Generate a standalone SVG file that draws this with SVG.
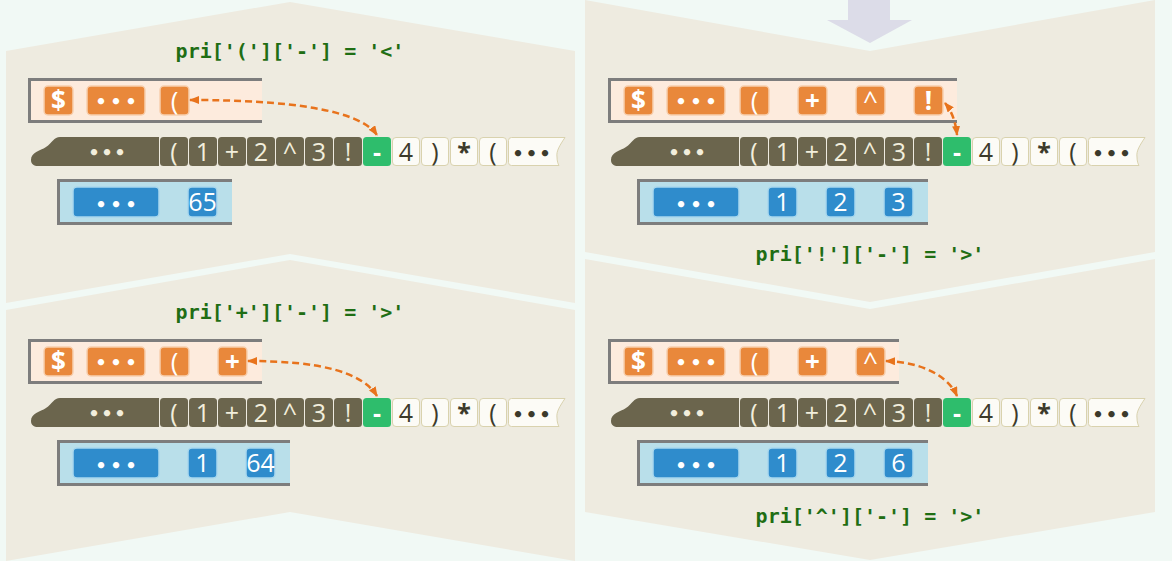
<svg xmlns="http://www.w3.org/2000/svg" width="1172" height="561" viewBox="0 0 1172 561">
<style>
.bgp{fill:#eeebe0}
.fo{fill:#fdebdd}
.fb{fill:#b9dfea}
.bd{fill:none;stroke:#7d7d7d;stroke-width:3}
.oi{fill:#e9883b;stroke:#f7cfae;stroke-width:1.5}
.bi{fill:#2f8ccc;stroke:#a9d8ee;stroke-width:1.5}
.dk{fill:#6b654d}
.lt{fill:#fcfbf6;stroke:#d9d2ae;stroke-width:1}
.gr{fill:#2ebd6c}
.t{font-family:"Open Sans","DejaVu Sans",sans-serif;font-size:25px;font-weight:500;text-anchor:middle}
.o{font-size:26px}
.b{font-weight:bold}
.tw{fill:#ffffff}
.tc{fill:#f2eedc}
.td{fill:#3c3a2b}
.dots{font-family:"DejaVu Sans",sans-serif;font-weight:bold;font-size:18px;text-anchor:middle}
.pri{font-family:"DejaVu Sans Mono",monospace;font-weight:bold;font-size:20px;fill:#1f6e14;text-anchor:middle}
.conn{fill:none;stroke:#e8731c;stroke-width:2.5;stroke-dasharray:7 4;marker-start:url(#ah);marker-end:url(#ah)}
</style>
<defs>
<marker id="ah" viewBox="0 0 10 8" refX="9" refY="4" markerWidth="10" markerHeight="8" markerUnits="userSpaceOnUse" orient="auto-start-reverse"><path d="M0,0 L10,4 L0,8 z" fill="#e8731c"/></marker>
</defs>
<rect width="1172" height="561" fill="#f1f9f5"/>
<g id="backgrounds">
<path class="bgp" d="M6,51 L290,2 L575,51 L575,303 L290,254 L6,303 Z"/>
<path class="bgp" d="M6,310 L290,260 L575,310 L575,561 L290,512 L6,561 Z"/>
<path class="bgp" d="M585,0 L870,51 L1155,0 L1155,252 L870,302 L585,252 Z"/>
<path class="bgp" d="M585,259 L870,309 L1155,259 L1155,512 L870,560 L585,512 Z"/>
</g>
<g id="down-arrow"><path d="M848,0 H890 V20 H912 L870,43 L827,20 H848 Z" fill="#dcdce8"/></g>

<!-- Panel L1 -->
<g id="label-L1"><text class="pri" x="290" y="58">pri['(']['-'] = '&lt;'</text></g>
<g id="opstack-L1">
<rect class="fo" x="28" y="78" width="234" height="45"/>
<path class="bd" d="M262,79.5 H29.5 V121.5 H262"/>
<rect class="oi" x="44" y="86" width="29" height="29" rx="4"/><text class="t o b tw" x="58.5" y="110">$</text>
<rect class="oi" x="87" y="86" width="58" height="29" rx="4"/><text class="dots tw" x="101 116 131" y="107.5">•••</text>
<rect class="oi" x="160" y="86" width="29" height="29" rx="4"/><text class="t o tw" x="174.5" y="110">(</text>
</g>
<g id="tokens-L1">
<path class="dk" d="M159,137 H60 C54,137 52,143 46,147 C40,151 31,152 31,160 C31,164 34,166 38,166 H159 Z"/>
<text class="dots tc" x="94 107 120" y="158.5">•••</text>
<rect class="dk" x="160" y="137" width="28" height="29" rx="3.5"/><text class="t tc" x="174" y="160.5">(</text>
<rect class="dk" x="189" y="137" width="28" height="29" rx="3.5"/><text class="t tc" x="203" y="160.5">1</text>
<rect class="dk" x="218" y="137" width="28" height="29" rx="3.5"/><text class="t tc" x="232" y="160.5">+</text>
<rect class="dk" x="247" y="137" width="28" height="29" rx="3.5"/><text class="t tc" x="261" y="160.5">2</text>
<rect class="dk" x="276" y="137" width="28" height="29" rx="3.5"/><text class="t tc" x="290" y="160.5">^</text>
<rect class="dk" x="305" y="137" width="28" height="29" rx="3.5"/><text class="t tc" x="319" y="160.5">3</text>
<rect class="dk" x="334" y="137" width="28" height="29" rx="3.5"/><text class="t tc" x="348" y="160.5">!</text>
<rect class="gr" x="363" y="137" width="28" height="29" rx="3.5"/><text class="t b tw" x="377" y="160.5">-</text>
<rect class="lt" x="392.5" y="137.5" width="27" height="28" rx="3.5"/><text class="t td" x="406" y="160.5">4</text>
<rect class="lt" x="421.5" y="137.5" width="27" height="28" rx="3.5"/><text class="t td" x="435" y="160.5">)</text>
<rect class="lt" x="450.5" y="137.5" width="27" height="28" rx="3.5"/><text class="t b td" x="464" y="160.5">*</text>
<rect class="lt" x="479.5" y="137.5" width="27" height="28" rx="3.5"/><text class="t td" x="493" y="160.5">(</text>
<path class="lt" d="M511.5,137.5 H565 C560,145 556,151 557,157 C557,161 558,164 559,165.5 H511.5 Q508.5,165.5 508.5,162.5 V140.5 Q508.5,137.5 511.5,137.5 Z"/>
<text class="dots td" x="518 531.5 545" y="159.5">•••</text>
</g>
<g id="numstack-L1">
<rect class="fb" x="57" y="179" width="175" height="46"/>
<path class="bd" d="M232,180.5 H58.5 V223.5 H232"/>
<rect class="bi" x="73" y="187" width="86" height="30" rx="4"/><text class="dots tw" x="101 116 131" y="210.5">•••</text>
<rect class="bi" x="188" y="187" width="29" height="30" rx="4"/><text class="t tw" x="202.5" y="211">65</text>
</g>

<!-- Panel L2 -->
<g id="label-L2"><text class="pri" x="290" y="319">pri['+']['-'] = '&gt;'</text></g>
<g id="opstack-L2" transform="translate(0,261)">
<rect class="fo" x="28" y="78" width="234" height="45"/>
<path class="bd" d="M262,79.5 H29.5 V121.5 H262"/>
<rect class="oi" x="44" y="86" width="29" height="29" rx="4"/><text class="t o b tw" x="58.5" y="110">$</text>
<rect class="oi" x="87" y="86" width="58" height="29" rx="4"/><text class="dots tw" x="101 116 131" y="107.5">•••</text>
<rect class="oi" x="160" y="86" width="29" height="29" rx="4"/><text class="t o tw" x="174.5" y="110">(</text>
<rect class="oi" x="218" y="86" width="29" height="29" rx="4"/><text class="t o b tw" x="232.5" y="110">+</text>
</g>
<g id="tokens-L2" transform="translate(0,261)">
<path class="dk" d="M159,137 H60 C54,137 52,143 46,147 C40,151 31,152 31,160 C31,164 34,166 38,166 H159 Z"/>
<text class="dots tc" x="94 107 120" y="158.5">•••</text>
<rect class="dk" x="160" y="137" width="28" height="29" rx="3.5"/><text class="t tc" x="174" y="160.5">(</text>
<rect class="dk" x="189" y="137" width="28" height="29" rx="3.5"/><text class="t tc" x="203" y="160.5">1</text>
<rect class="dk" x="218" y="137" width="28" height="29" rx="3.5"/><text class="t tc" x="232" y="160.5">+</text>
<rect class="dk" x="247" y="137" width="28" height="29" rx="3.5"/><text class="t tc" x="261" y="160.5">2</text>
<rect class="dk" x="276" y="137" width="28" height="29" rx="3.5"/><text class="t tc" x="290" y="160.5">^</text>
<rect class="dk" x="305" y="137" width="28" height="29" rx="3.5"/><text class="t tc" x="319" y="160.5">3</text>
<rect class="dk" x="334" y="137" width="28" height="29" rx="3.5"/><text class="t tc" x="348" y="160.5">!</text>
<rect class="gr" x="363" y="137" width="28" height="29" rx="3.5"/><text class="t b tw" x="377" y="160.5">-</text>
<rect class="lt" x="392.5" y="137.5" width="27" height="28" rx="3.5"/><text class="t td" x="406" y="160.5">4</text>
<rect class="lt" x="421.5" y="137.5" width="27" height="28" rx="3.5"/><text class="t td" x="435" y="160.5">)</text>
<rect class="lt" x="450.5" y="137.5" width="27" height="28" rx="3.5"/><text class="t b td" x="464" y="160.5">*</text>
<rect class="lt" x="479.5" y="137.5" width="27" height="28" rx="3.5"/><text class="t td" x="493" y="160.5">(</text>
<path class="lt" d="M511.5,137.5 H565 C560,145 556,151 557,157 C557,161 558,164 559,165.5 H511.5 Q508.5,165.5 508.5,162.5 V140.5 Q508.5,137.5 511.5,137.5 Z"/>
<text class="dots td" x="518 531.5 545" y="159.5">•••</text>
</g>
<g id="numstack-L2" transform="translate(0,261)">
<rect class="fb" x="57" y="179" width="233" height="46"/>
<path class="bd" d="M290,180.5 H58.5 V223.5 H290"/>
<rect class="bi" x="73" y="187" width="86" height="30" rx="4"/><text class="dots tw" x="101 116 131" y="210.5">•••</text>
<rect class="bi" x="188" y="187" width="29" height="30" rx="4"/><text class="t tw" x="202.5" y="211">1</text>
<rect class="bi" x="246" y="187" width="29" height="30" rx="4"/><text class="t tw" x="260.5" y="211">64</text>
</g>

<!-- Panel R1 -->
<g id="label-R1"><text class="pri" x="870" y="261">pri['!']['-'] = '&gt;'</text></g>
<g id="opstack-R1" transform="translate(580,0)">
<rect class="fo" x="28" y="78" width="349" height="45"/>
<path class="bd" d="M377,79.5 H29.5 V121.5 H377"/>
<rect class="oi" x="44" y="86" width="29" height="29" rx="4"/><text class="t o b tw" x="58.5" y="110">$</text>
<rect class="oi" x="87" y="86" width="58" height="29" rx="4"/><text class="dots tw" x="101 116 131" y="107.5">•••</text>
<rect class="oi" x="160" y="86" width="29" height="29" rx="4"/><text class="t o tw" x="174.5" y="110">(</text>
<rect class="oi" x="218" y="86" width="29" height="29" rx="4"/><text class="t o b tw" x="232.5" y="110">+</text>
<rect class="oi" x="276" y="86" width="29" height="29" rx="4"/><text class="t o tw" x="290.5" y="110">^</text>
<rect class="oi" x="334" y="86" width="29" height="29" rx="4"/><text class="t o b tw" x="348.5" y="110">!</text>
</g>
<g id="tokens-R1" transform="translate(580,0)">
<path class="dk" d="M159,137 H60 C54,137 52,143 46,147 C40,151 31,152 31,160 C31,164 34,166 38,166 H159 Z"/>
<text class="dots tc" x="94 107 120" y="158.5">•••</text>
<rect class="dk" x="160" y="137" width="28" height="29" rx="3.5"/><text class="t tc" x="174" y="160.5">(</text>
<rect class="dk" x="189" y="137" width="28" height="29" rx="3.5"/><text class="t tc" x="203" y="160.5">1</text>
<rect class="dk" x="218" y="137" width="28" height="29" rx="3.5"/><text class="t tc" x="232" y="160.5">+</text>
<rect class="dk" x="247" y="137" width="28" height="29" rx="3.5"/><text class="t tc" x="261" y="160.5">2</text>
<rect class="dk" x="276" y="137" width="28" height="29" rx="3.5"/><text class="t tc" x="290" y="160.5">^</text>
<rect class="dk" x="305" y="137" width="28" height="29" rx="3.5"/><text class="t tc" x="319" y="160.5">3</text>
<rect class="dk" x="334" y="137" width="28" height="29" rx="3.5"/><text class="t tc" x="348" y="160.5">!</text>
<rect class="gr" x="363" y="137" width="28" height="29" rx="3.5"/><text class="t b tw" x="377" y="160.5">-</text>
<rect class="lt" x="392.5" y="137.5" width="27" height="28" rx="3.5"/><text class="t td" x="406" y="160.5">4</text>
<rect class="lt" x="421.5" y="137.5" width="27" height="28" rx="3.5"/><text class="t td" x="435" y="160.5">)</text>
<rect class="lt" x="450.5" y="137.5" width="27" height="28" rx="3.5"/><text class="t b td" x="464" y="160.5">*</text>
<rect class="lt" x="479.5" y="137.5" width="27" height="28" rx="3.5"/><text class="t td" x="493" y="160.5">(</text>
<path class="lt" d="M511.5,137.5 H565 C560,145 556,151 557,157 C557,161 558,164 559,165.5 H511.5 Q508.5,165.5 508.5,162.5 V140.5 Q508.5,137.5 511.5,137.5 Z"/>
<text class="dots td" x="518 531.5 545" y="159.5">•••</text>
</g>
<g id="numstack-R1" transform="translate(580,0)">
<rect class="fb" x="57" y="179" width="291" height="46"/>
<path class="bd" d="M348,180.5 H58.5 V223.5 H348"/>
<rect class="bi" x="73" y="187" width="86" height="30" rx="4"/><text class="dots tw" x="101 116 131" y="210.5">•••</text>
<rect class="bi" x="188" y="187" width="29" height="30" rx="4"/><text class="t tw" x="202.5" y="211">1</text>
<rect class="bi" x="246" y="187" width="29" height="30" rx="4"/><text class="t tw" x="260.5" y="211">2</text>
<rect class="bi" x="304" y="187" width="29" height="30" rx="4"/><text class="t tw" x="318.5" y="211">3</text>
</g>

<!-- Panel R2 -->
<g id="label-R2"><text class="pri" x="870" y="523">pri['^']['-'] = '&gt;'</text></g>
<g id="opstack-R2" transform="translate(580,261)">
<rect class="fo" x="28" y="78" width="291" height="45"/>
<path class="bd" d="M319,79.5 H29.5 V121.5 H319"/>
<rect class="oi" x="44" y="86" width="29" height="29" rx="4"/><text class="t o b tw" x="58.5" y="110">$</text>
<rect class="oi" x="87" y="86" width="58" height="29" rx="4"/><text class="dots tw" x="101 116 131" y="107.5">•••</text>
<rect class="oi" x="160" y="86" width="29" height="29" rx="4"/><text class="t o tw" x="174.5" y="110">(</text>
<rect class="oi" x="218" y="86" width="29" height="29" rx="4"/><text class="t o b tw" x="232.5" y="110">+</text>
<rect class="oi" x="276" y="86" width="29" height="29" rx="4"/><text class="t o tw" x="290.5" y="110">^</text>
</g>
<g id="tokens-R2" transform="translate(580,261)">
<path class="dk" d="M159,137 H60 C54,137 52,143 46,147 C40,151 31,152 31,160 C31,164 34,166 38,166 H159 Z"/>
<text class="dots tc" x="94 107 120" y="158.5">•••</text>
<rect class="dk" x="160" y="137" width="28" height="29" rx="3.5"/><text class="t tc" x="174" y="160.5">(</text>
<rect class="dk" x="189" y="137" width="28" height="29" rx="3.5"/><text class="t tc" x="203" y="160.5">1</text>
<rect class="dk" x="218" y="137" width="28" height="29" rx="3.5"/><text class="t tc" x="232" y="160.5">+</text>
<rect class="dk" x="247" y="137" width="28" height="29" rx="3.5"/><text class="t tc" x="261" y="160.5">2</text>
<rect class="dk" x="276" y="137" width="28" height="29" rx="3.5"/><text class="t tc" x="290" y="160.5">^</text>
<rect class="dk" x="305" y="137" width="28" height="29" rx="3.5"/><text class="t tc" x="319" y="160.5">3</text>
<rect class="dk" x="334" y="137" width="28" height="29" rx="3.5"/><text class="t tc" x="348" y="160.5">!</text>
<rect class="gr" x="363" y="137" width="28" height="29" rx="3.5"/><text class="t b tw" x="377" y="160.5">-</text>
<rect class="lt" x="392.5" y="137.5" width="27" height="28" rx="3.5"/><text class="t td" x="406" y="160.5">4</text>
<rect class="lt" x="421.5" y="137.5" width="27" height="28" rx="3.5"/><text class="t td" x="435" y="160.5">)</text>
<rect class="lt" x="450.5" y="137.5" width="27" height="28" rx="3.5"/><text class="t b td" x="464" y="160.5">*</text>
<rect class="lt" x="479.5" y="137.5" width="27" height="28" rx="3.5"/><text class="t td" x="493" y="160.5">(</text>
<path class="lt" d="M511.5,137.5 H565 C560,145 556,151 557,157 C557,161 558,164 559,165.5 H511.5 Q508.5,165.5 508.5,162.5 V140.5 Q508.5,137.5 511.5,137.5 Z"/>
<text class="dots td" x="518 531.5 545" y="159.5">•••</text>
</g>
<g id="numstack-R2" transform="translate(580,261)">
<rect class="fb" x="57" y="179" width="291" height="46"/>
<path class="bd" d="M348,180.5 H58.5 V223.5 H348"/>
<rect class="bi" x="73" y="187" width="86" height="30" rx="4"/><text class="dots tw" x="101 116 131" y="210.5">•••</text>
<rect class="bi" x="188" y="187" width="29" height="30" rx="4"/><text class="t tw" x="202.5" y="211">1</text>
<rect class="bi" x="246" y="187" width="29" height="30" rx="4"/><text class="t tw" x="260.5" y="211">2</text>
<rect class="bi" x="304" y="187" width="29" height="30" rx="4"/><text class="t tw" x="318.5" y="211">6</text>
</g>

<g id="connectors">
<path class="conn" d="M190,100 C290,100 360,110 377,135"/>
<path class="conn" d="M248,361 C320,361 362,372 377,396"/>
<path class="conn" d="M945,103 Q955,115 957,135"/>
<path class="conn" d="M886,361 C920,362 948,375 957,396"/>
</g>
</svg>
